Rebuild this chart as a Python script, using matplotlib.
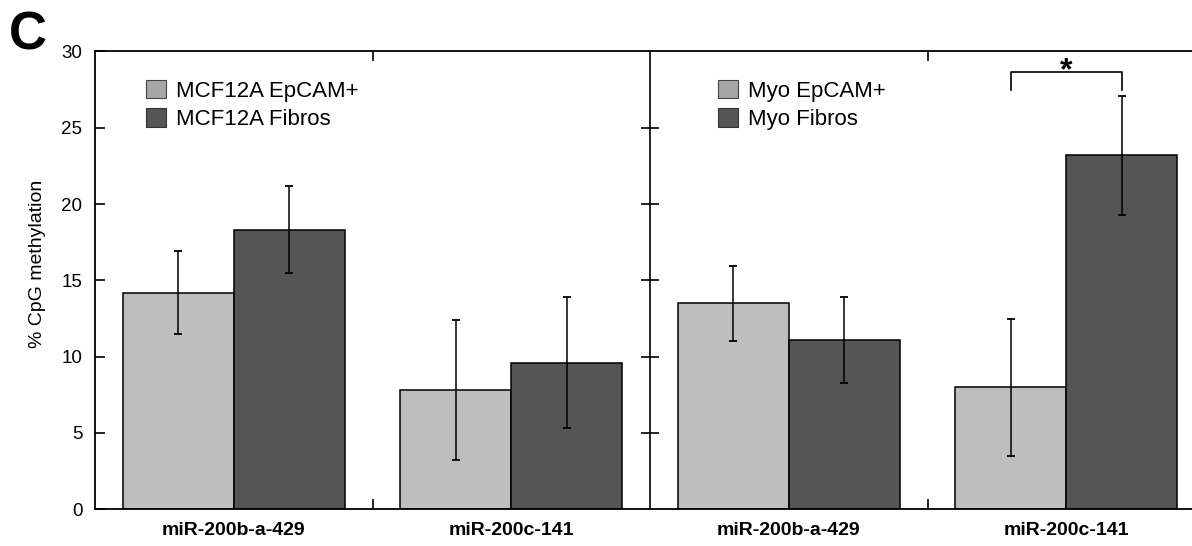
import matplotlib
matplotlib.use("Agg")
import matplotlib.pyplot as plt
from matplotlib.patches import Patch

plt.rcParams['font.family'] = ['Liberation Sans', 'DejaVu Sans']

# data
groups = ["miR-200b-a-429", "miR-200c-141", "miR-200b-a-429", "miR-200c-141"]
epcam_vals = [14.2, 7.8, 13.5, 8.0]
epcam_err = [2.7, 4.6, 2.45, 4.5]
fibro_vals = [18.3, 9.6, 11.1, 23.2]
fibro_err = [2.85, 4.3, 2.8, 3.9]
legend_left = ["MCF12A EpCAM+", "MCF12A Fibros"]
legend_right = ["Myo EpCAM+", "Myo Fibros"]

light = "#bebebe"
dark = "#555555"

fig = plt.figure(figsize=(11.92, 5.46), dpi=100)
W, H = 1192, 546
# axes in pixels: left 95, right 1205 (cropped by figure edge), y 0 at 509, 30 at 51.5
ax = fig.add_axes([95 / W, (H - 509.3) / H, 1110 / W, (509.3 - 51.4) / H])

centers = [1, 3, 5, 7]
bw = 0.8
xl = [c - bw / 2 for c in centers]
xr = [c + bw / 2 for c in centers]
ax.bar(xl, epcam_vals, width=bw, color=light, edgecolor='black', linewidth=1.1)
ax.bar(xr, fibro_vals, width=bw, color=dark, edgecolor='black', linewidth=1.1)
ax.errorbar(xl, epcam_vals, yerr=epcam_err, fmt='none',
            ecolor='black', elinewidth=1.1, capsize=3, capthick=1.3)
ax.errorbar(xr, fibro_vals, yerr=fibro_err, fmt='none',
            ecolor='black', elinewidth=1.1, capsize=3, capthick=1.3)

ax.set_xlim(0, 8)
ax.set_ylim(0, 30)

# divider between panels with crossing ticks
ax.axvline(4, color='black', lw=1.2)
ax.hlines([5, 10, 15, 20, 25], 4 - 0.068, 4 + 0.068, color='black', lw=1.2)

ax.set_yticks([0, 5, 10, 15, 20, 25, 30])
ax.set_xticks([2, 6])
ax.set_xticklabels([])
ax.set_xticks(centers, minor=True)
ax.set_xticklabels(groups, minor=True, fontsize=14, fontweight='bold')
ax.tick_params(axis='x', which='minor', length=0, pad=9)
ax.tick_params(axis='x', which='major', direction='in', length=7, width=1.2, top=True)
ax.tick_params(axis='y', direction='in', length=7, width=1.2, labelsize=13.5, pad=9)
for s in ['left', 'top', 'bottom']:
    ax.spines[s].set_linewidth(1.3)
ax.spines['right'].set_visible(False)

ax.set_ylabel("% CpG methylation", fontsize=14)
ax.yaxis.set_label_coords(-0.044, 0.535)

# significance bracket
x1 = xl[3]
x2 = xr[3]
ax.plot([x1, x1, x2, x2], [27.5, 28.65, 28.65, 27.45], color='black', lw=1.2)
ax.text((x1 + x2) / 2, 28.15, "*", ha='center', va='baseline', fontsize=23, fontweight='bold')

h1 = [Patch(facecolor="#a6a6a6", edgecolor='#444444', lw=0.8),
      Patch(facecolor=dark, edgecolor='#333333', lw=0.8)]
fig.legend(h1, legend_left, loc='upper left', bbox_to_anchor=(146 / W, 1 - 80 / H),
           frameon=False, fontsize=16, handlelength=0.9, handleheight=0.9,
           handletextpad=0.45, labelspacing=0.28, borderpad=0, borderaxespad=0)
fig.legend(h1, legend_right, loc='upper left', bbox_to_anchor=(718 / W, 1 - 80 / H),
           frameon=False, fontsize=16, handlelength=0.9, handleheight=0.9,
           handletextpad=0.45, labelspacing=0.28, borderpad=0, borderaxespad=0)

fig.text(9 / W, 1 - 49 / H, "C", fontsize=38, fontweight='bold', ha='left', va='baseline')

fig.savefig("out.png", dpi=100)
